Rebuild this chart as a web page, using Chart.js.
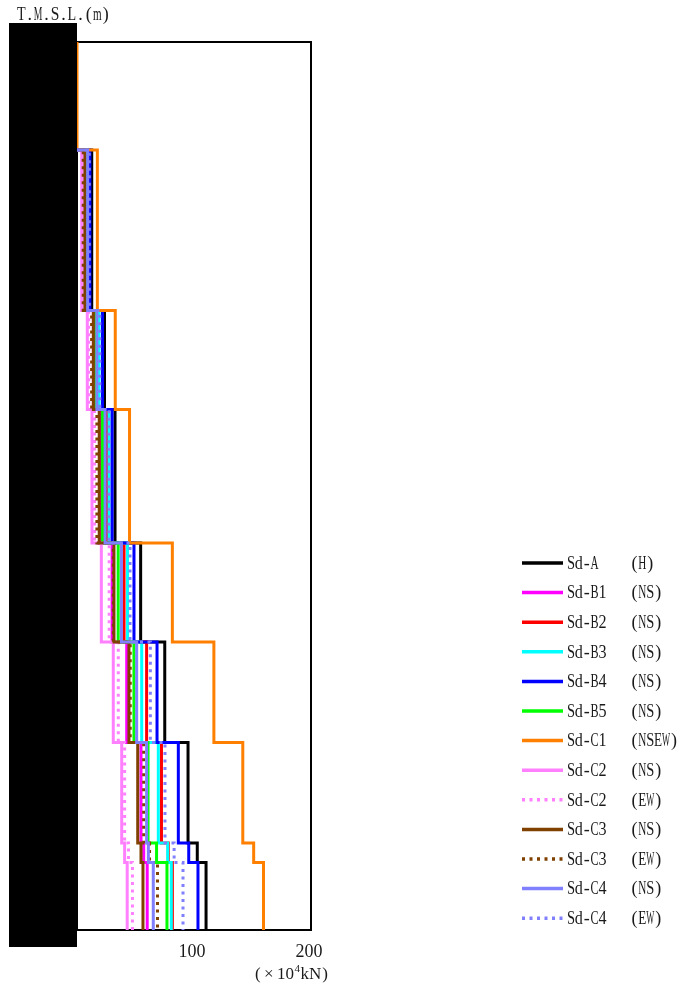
<!DOCTYPE html>
<html>
<head>
<meta charset="utf-8">
<style>
  html, body { margin: 0; padding: 0; background: #fff; }
  canvas { display: block; }
</style>
<script src="https://cdn.jsdelivr.net/npm/chart.js@4"></script>
</head>
<body>
<canvas id="chart" width="680" height="985"></canvas>
<script>
// T.M.S.L.(m) of the floor levels, top to bottom
const levels = [49.7, 42.5, 31.8, 25.2, 16.3, 9.7, 3.0, -3.7, -5.0, -9.5];

// shear force (x10^4 kN) per storey, top storey first (null = no line there)
const sdA    = [null, 12.6, 23.5, 32.5, 54.4, 75.0, 94.9, 102.8, 110.3];
const sdB1   = [null,  7.0, 14.0, 19.5, 30.0, 42.5, 54.7,  57.0,  60.0];
const sdB2   = [null,  9.5, 18.0, 25.5, 40.2, 59.5, 72.2,  78.0,  81.5];
const sdB3   = [null, 10.0, 18.8, 27.4, 43.2, 55.3, 69.5,  77.5,  80.6];
const sdB4   = [null, 11.0, 21.8, 30.0, 48.7, 68.4, 86.6,  95.5, 103.4];
const sdB5   = [null,  7.8, 15.5, 21.8, 35.2, 48.7, 60.7,  68.0,  76.9];
const sdC1   = [0,    17.4, 32.7, 44.9, 81.5, 117.0, 141.7, 151.0, 159.4];
const sdC2ns = [null,  4.0,  8.8, 12.8, 20.8, 31.0, 38.2,  40.7,  42.9];
const sdC2ew = [null,  4.5, 10.0, 15.0, 27.5, 35.3, 40.7,  44.0,  47.4];
const sdC3ns = [null,  6.8, 14.0, 19.0, 31.6, 44.4, 51.9,  54.7,  56.4];
const sdC3ew = [null,  5.3, 12.5, 17.0, 31.0, 45.5, 57.0,  62.0,  68.8];
const sdC4ns = [null,  9.1, 17.0, 24.0, 38.0, 51.0, 59.5,  61.0,  65.2];
const sdC4ew = [null, 10.5, 19.5, 27.5, 45.3, 62.7, 75.2,  83.0,  90.6];

const names = ['Sd-A', 'Sd-B1', 'Sd-B2', 'Sd-B3', 'Sd-B4', 'Sd-B5', 'Sd-C1',
               'Sd-C2', 'Sd-C2', 'Sd-C3', 'Sd-C3', 'Sd-C4', 'Sd-C4'];
const dirs = ['(H)', '(NS)', '(NS)', '(NS)', '(NS)', '(NS)', '(NSEW)',
              '(NS)', '(EW)', '(NS)', '(EW)', '(NS)', '(EW)'];
const xTicks = [100, 200];

const series = [sdA, sdB1, sdB2, sdB3, sdB4, sdB5, sdC1, sdC2ns, sdC2ew, sdC3ns, sdC3ew, sdC4ns, sdC4ew];
const colors = ['#000000', '#ff00ff', '#ff0000', '#00ffff', '#0000ff', '#00ff00', '#ff8000',
                '#ff80ff', '#ff80ff', '#804000', '#804000', '#8080ff', '#8080ff'];
const dotted = [false, false, false, false, false, false, false, false, true, false, true, false, true];

const FONT = "'Liberation Serif', 'DejaVu Serif', serif";
const DASH = [3, 4.5];

// storey values -> step line points
function stepPoints(vals) {
    let pts = [];
    vals.forEach(function (v, i) {
        if (v === null) return;
        if (!pts.length) pts.push({ x: 0, y: levels[i] });
        pts.push({ x: v, y: levels[i] }, { x: v, y: levels[i + 1] });
    });
    return pts;
}

// half-width "mincho" look: one character per fixed cell
function monoText(ctx, str, x, y, pitch) {
    [...str].forEach(function (ch, i) {
        let w = ctx.measureText(ch).width;
        let k = Math.min(1, pitch * 1.02 / w);
        ctx.save();
        ctx.translate(x + pitch * (i + 0.5), y);
        ctx.scale(k, 1);
        ctx.fillText(ch, 0, 0);
        ctx.restore();
    });
}

const framePlugin = {
    id: 'frame',
    beforeDatasetsDraw(chart) {
        const a = chart.chartArea, ctx = chart.ctx;
        ctx.save();
        ctx.strokeStyle = '#000';
        ctx.lineWidth = 2;
        ctx.strokeRect(a.left, a.top, a.right - a.left, a.bottom - a.top);
        ctx.restore();
    },
    afterDraw(chart) {
        const ctx = chart.ctx;
        ctx.save();
        // masked elevation labels
        ctx.fillStyle = '#000';
        ctx.fillRect(9, 23, 68, 924);

        ctx.fillStyle = '#1a1a1a';
        ctx.textAlign = 'center';
        ctx.textBaseline = 'middle';
        ctx.font = '18px ' + FONT;
        monoText(ctx, 'T.M.S.L.(m)', 17, 15, 8.45);

        // unit label (×10^4 kN)
        ctx.textAlign = 'left';
        ctx.textBaseline = 'alphabetic';
        ctx.font = '17px ' + FONT;
        ctx.fillText('(', 255, 979);
        ctx.fillText('\u00d7', 264, 979);
        ctx.fillText('10', 277, 979);
        let x = 277 + ctx.measureText('10').width + 0.5;
        ctx.font = '11px ' + FONT;
        ctx.fillText('4', x, 972);
        x += ctx.measureText('4').width + 0.5;
        ctx.font = '17px ' + FONT;
        ctx.fillText('kN', x, 979);
        x += ctx.measureText('kN').width + 1;
        ctx.fillText(')', x, 979);

        // legend
        ctx.font = '18px ' + FONT;
        ctx.textAlign = 'center';
        ctx.textBaseline = 'middle';
        chart.data.datasets.forEach(function (ds, i) {
            const y = 563 + i * 29.6;
            ctx.save();
            ctx.strokeStyle = ds.borderColor;
            ctx.lineWidth = 3.5;
            ctx.setLineDash(ds.borderDash);
            ctx.beginPath();
            ctx.moveTo(522, y);
            ctx.lineTo(563, y);
            ctx.stroke();
            ctx.restore();
            ctx.fillStyle = '#1a1a1a';
            monoText(ctx, names[i], 567, y + 1, 7.9);
            monoText(ctx, dirs[i], 630.5, y + 1, 7.9);
        });
        ctx.restore();
    }
};

new Chart(document.getElementById('chart'), {
    type: 'line',
    data: {
        datasets: series.map(function (vals, i) {
            return {
                label: names[i] + ' ' + dirs[i],
                data: stepPoints(vals),
                borderColor: colors[i],
                borderWidth: 3,
                borderDash: dotted[i] ? DASH : [],
                pointRadius: 0,
                fill: false,
                tension: 0,
                order: series.length - i
            };
        })
    },
    options: {
        responsive: false,
        devicePixelRatio: 1,
        animation: false,
        layout: { padding: { left: 77, top: 42, right: 369, bottom: 0 } },
        plugins: { legend: { display: false }, tooltip: { enabled: false } },
        scales: {
            x: {
                type: 'linear',
                min: 0,
                max: 200,
                afterFit: function (s) { s.height = 55; },
                grid: { display: false, drawTicks: false },
                border: { display: false },
                afterBuildTicks: function (s) { s.ticks = xTicks.map(function (v) { return { value: v }; }); },
                ticks: {
                    padding: 11,
                    labelOffset: -2,
                    maxRotation: 0,
                    color: '#1a1a1a',
                    font: { family: FONT, size: 18 }
                }
            },
            y: {
                type: 'linear',
                min: levels[levels.length - 1],
                max: levels[0],
                display: false
            }
        }
    },
    plugins: [framePlugin]
});
</script>
</body>
</html>
